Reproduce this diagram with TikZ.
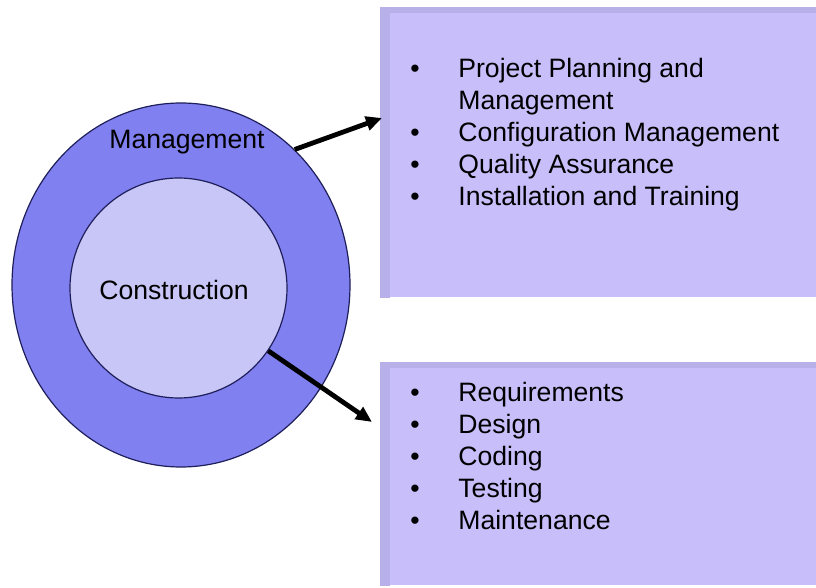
\documentclass[tikz,border=0pt]{standalone}
\usepackage{fontspec}
\setmainfont{Liberation Sans}
\usetikzlibrary{shapes.geometric,arrows.meta}
\definecolor{ringblue}{RGB}{128,128,240}
\definecolor{coreblue}{RGB}{200,198,246}
\definecolor{boxlilac}{RGB}{200,190,250}
\definecolor{boxedge}{RGB}{184,176,232}
\definecolor{rimline}{RGB}{30,30,90}
\newcommand{\itm}{\makebox[24pt][l]{\textbullet}}

\begin{document}
\begin{tikzpicture}[x=0.5pt, y=-0.5pt,
    every node/.style={font=\fontsize{13.3}{16}\selectfont},
    ring/.style={ellipse, draw=rimline, line width=0.6pt, fill=ringblue, inner sep=0pt},
    listbox/.style={rectangle, fill=boxlilac, anchor=north west, inner sep=0pt, minimum width=250pt},
    items/.style={anchor=north west, inner sep=0pt},
    flow/.style={line width=2.4pt, -{Triangle[length=8pt,width=7pt]}}]
    \useasboundingbox[fill=white] (0,0) rectangle (816,588);
    % the two rings
    \node[ring, minimum width=169pt, minimum height=182pt] (mgmt) at (181,285) {};
    \node[ring, fill=coreblue, minimum width=108.5pt, minimum height=110pt] (cons) at (178.5,288) {};
    \node (mgmtlbl) at (187,142) {Management};
    \node (conslbl) at (174,290) {Construction};
    % boxes on the right, with their darker left and top rims
    \node[listbox, minimum height=145pt] (topbox) at (380,7) {};
    \node[listbox, minimum height=111.5pt] (botbox) at (380,362) {};
    \fill[boxedge] (topbox.north west) rectangle ([xshift=5pt]topbox.south west);
    \fill[boxedge] (topbox.north west) rectangle ([yshift=-3pt]topbox.north east);
    \fill[boxedge] (botbox.north west) rectangle ([xshift=5pt]botbox.south west);
    \fill[boxedge] (botbox.north west) rectangle ([yshift=-3pt]botbox.north east);
    \node[items] (toplist) at (410,55) {\begin{tabular}[t]{@{}l@{}}
        \itm Project Planning and\\
        \hspace*{24pt}Management\\
        \itm Configuration Management\\
        \itm Quality Assurance\\
        \itm Installation and Training
      \end{tabular}};
    \node[items] (botlist) at (410,379) {\begin{tabular}[t]{@{}l@{}}
        \itm Requirements\\
        \itm Design\\
        \itm Coding\\
        \itm Testing\\
        \itm Maintenance
      \end{tabular}};
    % arrows out of the rings
    \coordinate (mgmtend) at (382,118);
    \coordinate (consend) at (372,422);
    \draw[flow] (mgmt.50) -- (mgmtend);
    \draw[flow] (cons.-35) -- (consend);
\end{tikzpicture}
\end{document}
